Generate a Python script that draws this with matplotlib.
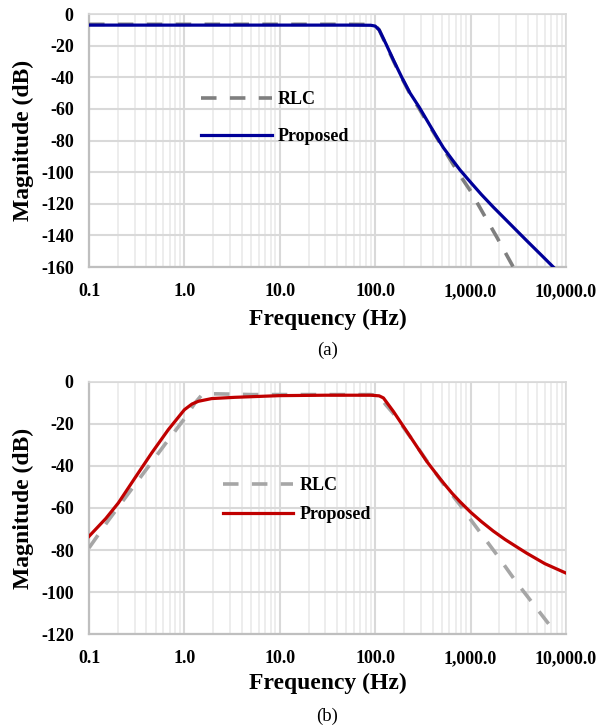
import matplotlib
matplotlib.use('Agg')
import matplotlib.pyplot as plt
from matplotlib.ticker import FixedLocator, LogLocator, NullFormatter

plt.rcParams['font.family'] = ['Liberation Serif', 'DejaVu Serif']

# (a) low-pass
freq_a_prop = [0.1, 1, 10, 50, 90, 100, 110, 130, 155, 190, 232, 290, 347, 430, 518, 640, 774,
               1000, 1300, 1730, 2300, 3000, 3870, 5500, 7360, 10000]
mag_a_prop = [-7.0, -7.0, -7.0, -7.0, -7.1, -7.6, -10, -19, -29, -40, -50, -59, -67, -76.5, -84.5, -92, -98.6,
              -106.4, -114.2, -122.1, -129.6, -136.6, -143.3, -152.4, -160, -168]
freq_a_rlc = [0.1, 1, 10, 50, 90, 100, 110, 130, 155, 190, 232, 290, 347, 430, 518, 640, 774,
              1000, 1475, 1880, 2800, 3500]
mag_a_rlc = [-6.5, -6.5, -6.5, -6.5, -6.6, -7.2, -10, -19.5, -29.5, -40.5, -50.5, -60, -68, -77, -85, -94, -102,
             -112, -130, -141, -160, -170]

# (b) band-pass
freq_b_prop = [0.1, 0.15, 0.203, 0.303, 0.454, 0.678, 1.0, 1.2, 1.4, 1.93, 3.39, 10, 30, 90, 110, 122,
               155, 232, 347, 450, 518, 640, 774, 1000, 1300, 1730, 2300, 3040, 3870, 6000, 10000]
mag_b_prop = [-73.5, -65, -57.6, -45.7, -33.8, -22.7, -13.2, -10.5, -9.2, -7.9, -7.3, -6.5, -6.3, -6.3, -6.6, -7.6,
              -14, -25.9, -37.8, -44.5, -48, -53, -57, -62, -66.5, -71, -75, -78.5, -81.5, -86.5, -91]
freq_b_rlc = [0.1, 0.159, 0.25, 0.4, 0.63, 1.0, 1.29, 1.5, 1.8, 2.5, 5, 10, 30, 90, 105, 115, 130,
              155, 232, 347, 518, 774, 1000, 1880, 3040, 6800, 8000]
mag_b_rlc = [-79, -66, -54, -41.5, -29.5, -17.5, -10, -6.5, -5.6, -5.7, -6.0, -6.0, -6.0, -6.0, -6.5, -8, -11,
             -15, -26, -37.5, -48.5, -58.5, -65.5, -82.2, -95.5, -116, -120.5]

x_ticks = [0.1, 1, 10, 100, 1000, 10000]
x_labels = ['0.1', '1.0', '10.0', '100.0', '1,000.0', '10,000.0']

fig = plt.figure(figsize=(5.99, 7.28), dpi=100)
ax_a = fig.add_axes([0.1486, 0.6332, 0.7963, 0.3475])
ax_b = fig.add_axes([0.1486, 0.1291, 0.7963, 0.3462])


def style_axes(ax, ymin, xpad):
    ax.set_xscale('log')
    ax.set_xlim(0.1, 10000)
    ax.set_ylim(ymin, 0)
    ax.xaxis.set_major_locator(FixedLocator(x_ticks))
    ax.set_xticklabels(x_labels)
    ax.xaxis.set_minor_locator(LogLocator(base=10, subs=range(2, 10)))
    ax.xaxis.set_minor_formatter(NullFormatter())
    ax.set_yticks(range(ymin, 1, 20))
    ax.set_yticklabels([str(v) for v in range(ymin, 1, 20)])
    ax.grid(which='major', color='#d9d9d9', lw=1.5, zorder=0)
    ax.grid(which='minor', axis='x', color='#ececec', lw=1.3, zorder=0)
    ax.set_axisbelow(True)
    ax.tick_params(which='both', length=0, labelsize=13)
    ax.tick_params(axis='x', pad=11.5)
    ax.tick_params(axis='y', pad=11)
    for lab in ax.get_xticklabels() + ax.get_yticklabels():
        lab.set_fontweight('bold')
    for s in ['left', 'bottom']:
        ax.spines[s].set_color('#bfbfbf')
        ax.spines[s].set_linewidth(1.6)
    for s in ['top', 'right']:
        ax.spines[s].set_color('#d9d9d9')
        ax.spines[s].set_linewidth(1.2)
    ax.set_xlabel('Frequency (Hz)', fontsize=17, fontweight='bold', labelpad=xpad)
    ax.set_ylabel('Magnitude (dB)', fontsize=17, fontweight='bold', labelpad=5)


style_axes(ax_a, -160, 6)
style_axes(ax_b, -120, 4)

ax_a.plot(freq_a_rlc, mag_a_rlc, color='#7f7f7f', lw=2.6, dashes=(4.3, 3.7), label='RLC', zorder=3)
ax_a.plot(freq_a_prop, mag_a_prop, color='#000099', lw=2.3, label='Proposed', zorder=4)

ax_b.plot(freq_b_rlc, mag_b_rlc, color='#a6a6a6', lw=2.6, dashes=(4.3, 3.7), label='RLC', zorder=3)
ax_b.plot(freq_b_prop, mag_b_prop, color='#c00000', lw=2.3, label='Proposed', zorder=4)

leg_a = ax_a.legend(loc='upper left', bbox_to_anchor=(0.235, 0.6957), frameon=False,
                    borderpad=0, borderaxespad=0, handlelength=3.9, handletextpad=0.35,
                    labelspacing=1.1, prop={'weight': 'bold', 'size': 13})
leg_b = ax_b.legend(loc='upper left', bbox_to_anchor=(0.281, 0.623), frameon=False,
                    borderpad=0, borderaxespad=0, handlelength=3.9, handletextpad=0.35,
                    labelspacing=0.66, prop={'weight': 'bold', 'size': 13})

fig.text(0.5467, 1 - 350 / 728, '(a)', ha='center', va='center', fontsize=13.5)
fig.text(0.5467, 1 - 716 / 728, '(b)', ha='center', va='center', fontsize=13.5)

fig.savefig('out.png', dpi=100)
